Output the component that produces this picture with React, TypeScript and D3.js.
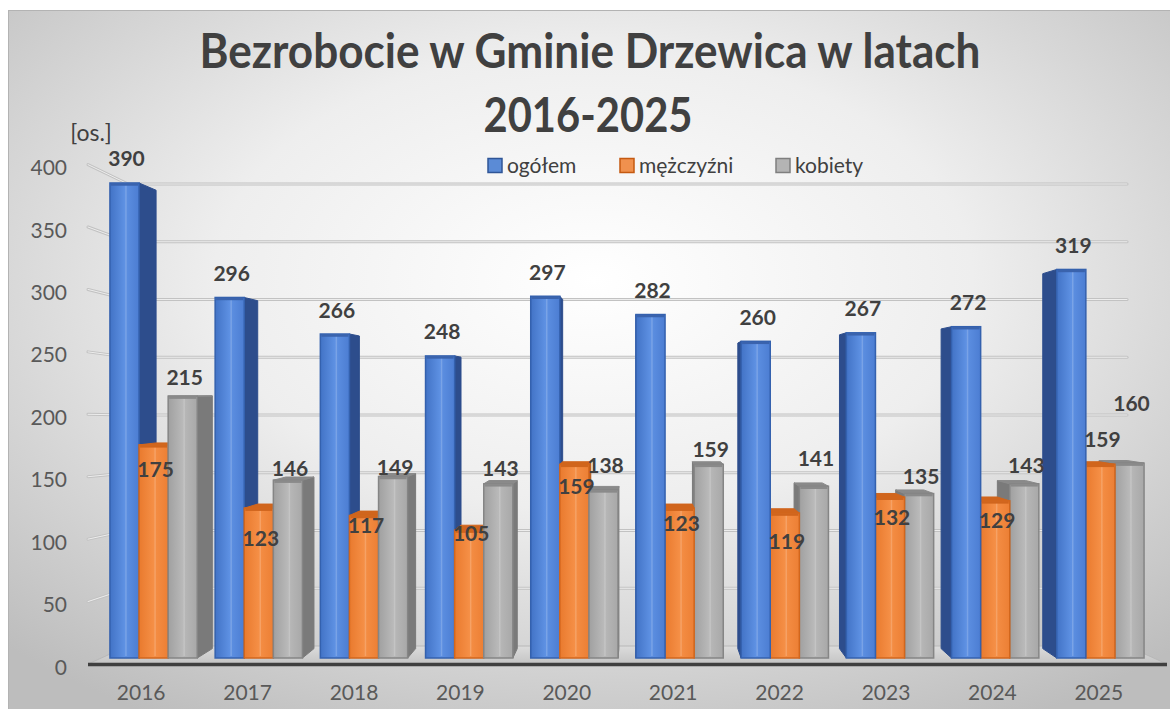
import React from 'react';
import * as d3 from 'd3';

const years = ['2016', '2017', '2018', '2019', '2020', '2021', '2022', '2023', '2024', '2025'];
const ogolem = [390, 296, 266, 248, 297, 282, 260, 267, 272, 319];
const mezczyzni = [175, 123, 117, 105, 159, 123, 119, 132, 129, 159];
const kobiety = [215, 146, 149, 143, 138, 159, 141, 135, 143, 160];
const seriesNames = ['ogółem', 'mężczyźni', 'kobiety'];
const yTicks = [0, 50, 100, 150, 200, 250, 300, 350, 400];
const titleLines = ['Bezrobocie w Gminie Drzewica w latach', '2016-2025'];
const unitLabel = '[os.]';
// manual data-label nudges (px, relative to bar top), as placed in the original
const blueLabelDy = [-25, -25, -25, -25, -25, -25, -25, -25, -25, -25];
const orangeLabelDy = [24, 29, 9, 2, 21, 14, 27, 19, 19, -26];
const grayLabelDy = [-20, -13, -10, -16, -25, -16, -29, -18, -19, -61];

const FONT = 'Lato, "Open Sans", sans-serif';

const palette = [
  { g: ['#4273c6', '#5e91e3', '#4c7dd2'], outline: '#3461ae', side: '#2d4d8c', top: '#3a63ad', legFill: '#5b8bd6', legStroke: '#2f5597' },
  { g: ['#e97a2e', '#f58f46', '#ec7f34'], outline: '#d2661c', side: '#b45818', top: '#d0651d', legFill: '#f0914e', legStroke: '#c55a11' },
  { g: ['#a0a0a0', '#b9b9b9', '#a8a8a8'], outline: '#858585', side: '#7a7a7a', top: '#8a8a8a', legFill: '#b4b4b4', legStroke: '#7f7f7f' },
];

export default function App() {
  const W = 1170, H = 709;
  const series = [ogolem, mezczyzni, kobiety];
  const labelDy = [blueLabelDy, orangeLabelDy, grayLabelDy];

  const x0 = d3.scaleBand<string>().domain(years).range([101, 1153]).paddingInner(0.17).paddingOuter(0.085);
  const x1 = d3.scaleBand<number>().domain([0, 1, 2]).range([0, x0.bandwidth()]);
  const xLab = d3.scaleBand<string>().domain(years).range([88, 1152]);
  const yBar = d3.scaleLinear().domain([0, 400]).range([658, 658 - 1.218 * 400]);
  const yAxis = d3.scaleLinear().domain([0, 400]).range([664, 164.6]);
  const yBack = d3.scaleLinear().domain([0, 400]).range([646, 184]);

  const wallL = 128, wallR = 1127, frontL = 88, frontR = 1167;
  const vx = 643, kx = 0.0338, vy = 390, ky = 0.035;

  type Bar = { i: number; s: number; v: number; x: number; w: number };
  const bars: Bar[] = [];
  years.forEach((yr, i) => {
    series.forEach((arr, s) => {
      bars.push({ i, s, v: arr[i], x: (x0(yr) as number) + (x1(s) as number), w: x1.bandwidth() });
    });
  });
  const sorted = [...bars].sort((a, b) => Math.abs(b.x + b.w / 2 - vx) - Math.abs(a.x + a.w / 2 - vx));

  const pts = (p: number[][]) => p.map((q) => q.join(',')).join(' ');

  const lineStyle = (key: string, x1p: number, y1p: number, x2p: number, y2p: number) => (
    <g key={key}>
      <line x1={x1p} y1={y1p} x2={x2p} y2={y2p} stroke="#c2c2c2" strokeWidth={3} strokeLinecap="round" />
      <line x1={x1p} y1={y1p} x2={x2p} y2={y2p} stroke="#ededed" strokeWidth={1} strokeLinecap="round" />
    </g>
  );

  const legendX = [488, 620, 776];

  return (
    <div style={{ position: 'absolute', left: 0, top: 0 }}>
      <svg width={W} height={H} viewBox={`0 0 ${W} ${H}`} style={{ display: 'block' }}>
        <defs>
          <radialGradient id="bg" cx="0.5" cy="0.38" r="0.72">
            <stop offset="0" stopColor="#ffffff" />
            <stop offset="0.45" stopColor="#eeeeee" />
            <stop offset="1" stopColor="#bdbdbd" />
          </radialGradient>
          <linearGradient id="floorG" x1="0" y1="0" x2="0" y2="1">
            <stop offset="0" stopColor="#dcdcdc" />
            <stop offset="1" stopColor="#c4c4c4" />
          </linearGradient>
          {palette.map((p, s) => (
            <linearGradient key={s} id={`front${s}`} x1="0" y1="0" x2="1" y2="0">
              <stop offset="0" stopColor={p.g[0]} />
              <stop offset="0.5" stopColor={p.g[1]} />
              <stop offset="1" stopColor={p.g[2]} />
            </linearGradient>
          ))}
        </defs>
        <rect x={0} y={0} width={W} height={H} fill="#ffffff" />
        <rect x={8.5} y={10.5} width={W} height={H} fill="url(#bg)" stroke="#b3b3b3" strokeWidth={1} />

        {/* back wall gridlines */}
        {yTicks.filter((t) => t > 0).map((t) => lineStyle(`g${t}`, wallL, yBack(t), wallR, yBack(t)))}
        {/* oblique side-wall ticks */}
        {yTicks.filter((t) => t > 0).map((t) => lineStyle(`o${t}`, frontL, yAxis(t), wallL, yBack(t)))}

        {/* floor */}
        <polygon
          points={pts([[frontL, yAxis(0)], [frontR, yAxis(0)], [wallR, yBack(0)], [wallL, yBack(0)]])}
          fill="url(#floorG)"
          stroke="#b8b8b8"
          strokeWidth={1}
        />
        <line x1={frontL} y1={yAxis(0) + 0.5} x2={frontR} y2={yAxis(0) + 0.5} stroke="#3f3f3f" strokeWidth={3.5} />

        {/* bars */}
        {sorted.map((b) => {
          const p = palette[b.s];
          const yT = yBar(b.v), yB = yBar(0);
          const c = b.x + b.w / 2;
          const xe = c < vx ? b.x + b.w : b.x;
          const dx = (vx - xe) * kx;
          const dyT = (vy - yT) * ky;
          const dyB = (vy - yB) * ky;
          const dxL = (vx - b.x) * kx, dxR = (vx - (b.x + b.w)) * kx;
          return (
            <g key={`b${b.i}-${b.s}`}>
              <polygon points={pts([[xe, yT], [xe + dx, yT + dyT], [xe + dx, yB + dyB], [xe, yB]])} fill={p.side} stroke={p.side} strokeWidth={1} />
              {dyT < 0 && (
                <polygon points={pts([[b.x, yT], [b.x + b.w, yT], [b.x + b.w + dxR, yT + dyT], [b.x + dxL, yT + dyT]])} fill={p.top} stroke={p.top} strokeWidth={1} />
              )}
              <rect x={b.x} y={yT} width={b.w} height={yB - yT} fill={`url(#front${b.s})`} stroke={p.outline} strokeWidth={1.5} />
              <line x1={b.x + b.w * 0.55} y1={yT + 2} x2={b.x + b.w * 0.55} y2={yB - 2} stroke="#ffffff" strokeOpacity={0.18} strokeWidth={1.5} />
              <line x1={b.x + 1} y1={yT + 1.5} x2={b.x + b.w - 1} y2={yT + 1.5} stroke={p.top} strokeWidth={2.5} />
            </g>
          );
        })}

        {/* data labels */}
        {bars.map((b) => (
          <text
            key={`l${b.i}-${b.s}`}
            x={b.x + b.w / 2 + 2}
            y={yBar(b.v) + labelDy[b.s][b.i]}
            textAnchor="middle"
            dominantBaseline="central"
            fontFamily={FONT}
            fontWeight={700}
            fontSize={21}
            fill="#404040"
          >
            {b.v}
          </text>
        ))}

        {/* y axis labels */}
        {yTicks.map((t) => (
          <text key={`y${t}`} x={67} y={yAxis(t) + 2} textAnchor="end" dominantBaseline="central" fontFamily={FONT} fontSize={21} fill="#595959">
            {t}
          </text>
        ))}
        <text x={91} y={132} textAnchor="middle" dominantBaseline="central" fontFamily={FONT} fontSize={23} fill="#404040">
          {unitLabel}
        </text>

        {/* x axis labels */}
        {years.map((yr) => (
          <text key={`x${yr}`} x={(xLab(yr) as number) + xLab.bandwidth() / 2} y={700} textAnchor="middle" fontFamily={FONT} fontSize={21} fill="#595959">
            {yr}
          </text>
        ))}

        {/* legend */}
        {seriesNames.map((n, s) => (
          <g key={`leg${s}`}>
            <rect x={legendX[s]} y={158.5} width={14} height={14} fill={palette[s].legFill} stroke={palette[s].legStroke} strokeWidth={1.5} />
            <text x={legendX[s] + 19} y={172.5} fontFamily={FONT} fontSize={21} fill="#404040">
              {n}
            </text>
          </g>
        ))}

        {/* title */}
        <text x={590} y={68} textAnchor="middle" fontFamily={FONT} fontWeight={700} fontSize={47} fill="#404040" textLength={781} lengthAdjust="spacingAndGlyphs">
          {titleLines[0]}
        </text>
        <text x={588} y={132} textAnchor="middle" fontFamily={FONT} fontWeight={700} fontSize={47} fill="#404040" textLength={209} lengthAdjust="spacingAndGlyphs">
          {titleLines[1]}
        </text>
      </svg>
    </div>
  );
}
